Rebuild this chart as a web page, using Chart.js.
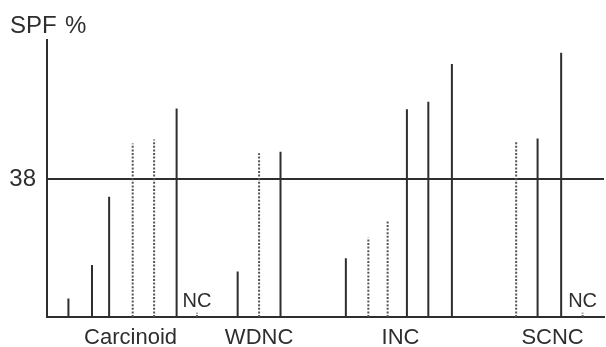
<!DOCTYPE html>
<html><head><meta charset="utf-8">
<script src="https://cdn.jsdelivr.net/npm/chart.js@4/dist/chart.umd.min.js"></script>
<style>html,body{margin:0;padding:0;background:#fff}#wrap{width:606px;height:347px;position:relative}</style>
</head><body><div id="wrap"><canvas id="c" width="606" height="347"></canvas></div>
<script>
// group labels and their location along the (ordinal) x axis
const groups = ['Carcinoid', 'WDNC', 'INC', 'SCNC'];
const groupPos = [3.9, 9.9, 16.5, 23.6];
// solid lines: slot and SPF %
const solidPos = [1.0, 2.1, 2.9, 6.05, 8.9, 10.9, 13.95, 16.8, 17.8, 18.9, 22.9, 24.0];
const solidVals = [5.1, 14.3, 33.1, 57.4, 12.5, 45.5, 16.2, 57.2, 59.3, 69.7, 49.2, 72.8];
// dotted lines: slot and SPF %
const dottedPos = [4.0, 5.0, 9.9, 15.0, 15.9, 21.9];
const dottedVals = [47.8, 48.9, 45.1, 21.9, 26.7, 48.3];
// NC (not counted) marks
const ncPos = [7.0, 25.0];
const ncVals = [1.2, 1.2];
const ncLabel = 'NC';
const cutoff = 38;
const yMax = 76.3;
const xMax = 26;

function segs(pos, vals) {
  const d = [];
  pos.forEach((p, i) => { d.push({x: p, y: 0}, {x: p, y: vals[i]}, {x: p, y: null}); });
  return d;
}

const INK = '#2e2e2e';
const FONT = '"Liberation Sans", Arial, Helvetica, sans-serif';

const textPlugin = {
  id: 'texts',
  afterDraw(chart) {
    const ctx = chart.ctx;
    const xs = chart.scales.x, ys = chart.scales.y;
    ctx.save();
    ctx.fillStyle = INK;
    ctx.textBaseline = 'alphabetic';
    ctx.textAlign = 'left';
    ctx.font = '24px ' + FONT;
    ctx.fillText('SPF', 10, 33);
    ctx.fillText('%', 65, 33);
    ctx.font = '20px ' + FONT;
    ctx.textAlign = 'center';
    ncPos.forEach(p => {
      ctx.fillText(ncLabel, xs.getPixelForValue(p), ys.getPixelForValue(0) - 10);
    });
    ctx.restore();
  }
};

new Chart(document.getElementById('c'), {
  type: 'line',
  data: {
    datasets: [
      {data: segs(solidPos, solidVals), borderColor: INK, borderWidth: 2, pointRadius: 0, spanGaps: false, borderCapStyle: 'butt'},
      {data: segs(dottedPos, dottedVals), borderColor: '#555', borderWidth: 2, borderDash: [2, 1.6], pointRadius: 0, spanGaps: false, borderCapStyle: 'butt'},
      {data: segs(ncPos, ncVals), borderColor: '#555', borderWidth: 2, borderDash: [2, 1.6], pointRadius: 0, spanGaps: false, borderCapStyle: 'butt'}
    ]
  },
  options: {
    responsive: false,
    devicePixelRatio: 1,
    animation: false,
    layout: {padding: {top: 40, right: 2, left: 0, bottom: 0}},
    plugins: {legend: {display: false}, tooltip: {enabled: false}},
    scales: {
      x: {
        type: 'linear', min: 0, max: xMax,
        afterBuildTicks: s => { s.ticks = groupPos.map(v => ({value: v})); },
        afterFit: s => { s.height = 30; },
        grid: {display: false, drawTicks: false},
        border: {display: true, color: INK, width: 2},
        ticks: {autoSkip: false, maxRotation: 0, padding: 8, color: INK, font: {size: 22, family: FONT},
          callback: (v, i) => groups[i]}
      },
      y: {
        min: 0, max: yMax,
        afterBuildTicks: s => { s.ticks = [{value: cutoff}]; },
        afterFit: s => { s.width = 47; },
        grid: {display: true, drawTicks: false, color: INK, lineWidth: 2},
        border: {display: true, color: INK, width: 2},
        ticks: {padding: 11, color: INK, font: {size: 24, family: FONT}}
      }
    }
  },
  plugins: [textPlugin]
});
</script></body></html>
